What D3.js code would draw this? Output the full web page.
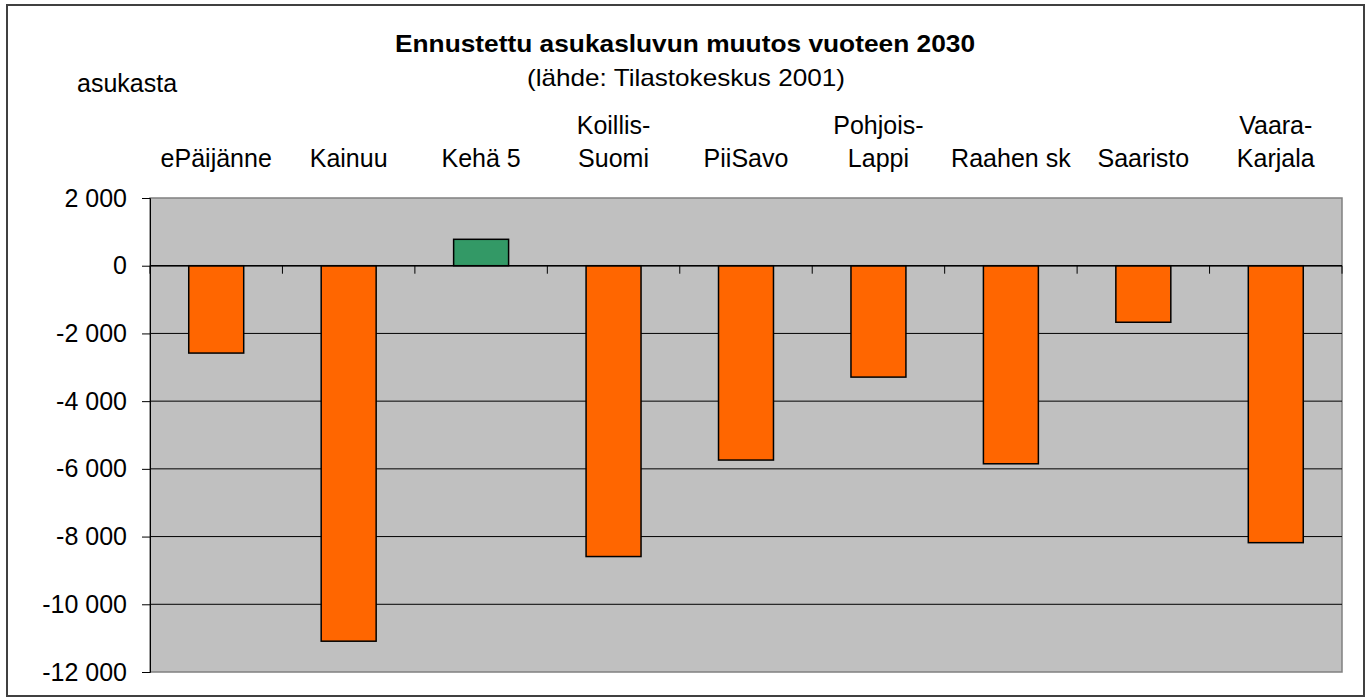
<!DOCTYPE html>
<html>
<head>
<meta charset="utf-8">
<script src="https://cdn.jsdelivr.net/npm/d3@7"></script>
<style>
body { margin: 0; background: #fff; }
text { font-family: "Liberation Sans", Arial, sans-serif; fill: #000; }
</style>
</head>
<body>
<div id="canvas"></div>
<script>
// ----------------------------------------------------------
// DATA -----------------------------------------------------
// ----------------------------------------------------------
var categories = ["ePäijänne", "Kainuu", "Kehä 5", "Koillis-Suomi", "PiiSavo",
  "Pohjois-Lappi", "Raahen sk", "Saaristo", "Vaara-Karjala"];
var values = [-2580, -11090, 780, -8590, -5740, -3290, -5850, -1670, -8180];
var y_ticks = [2000, 0, -2000, -4000, -6000, -8000, -10000, -12000];

var title_text = "Ennustettu asukasluvun muutos vuoteen 2030";
var subtitle_text = "(lähde: Tilastokeskus 2001)";
var unit_text = "asukasta";

// ----------------------------------------------------------
// STRUCTURE ------------------------------------------------
// ----------------------------------------------------------
var W = 1370, H = 700;
var plot = { left: 150, right: 1342, top: 198, bottom: 672 };

var svg = d3.select("#canvas").append("svg")
  .attr("width", W)
  .attr("height", H);

// outer frame
svg.append("rect")
  .attr("x", 7).attr("y", 5)
  .attr("width", 1357).attr("height", 691)
  .attr("fill", "#fff")
  .attr("stroke", "#404040")
  .attr("stroke-width", 2);

var x = d3.scaleBand()
  .domain(categories)
  .range([plot.left, plot.right])
  .paddingInner(0.585)
  .paddingOuter(0.2925);

var xCat = d3.scaleBand()
  .domain(categories)
  .range([plot.left, plot.right]);

var y = d3.scaleLinear()
  .domain([-12000, 2000])
  .range([plot.bottom, plot.top]);

var fi = d3.formatLocale({ decimal: ",", thousands: " ", grouping: [3], currency: ["", "€"], minus: "-" });
var fmt = fi.format(",d");

// plot background
svg.append("rect")
  .attr("x", plot.left).attr("y", plot.top)
  .attr("width", plot.right - plot.left)
  .attr("height", plot.bottom - plot.top)
  .attr("fill", "#c0c0c0")
  .attr("stroke", "#808080")
  .attr("stroke-width", 1.5);

// gridlines
svg.append("g").selectAll("line")
  .data(y_ticks.filter(function (d) { return d > -12000 && d < 2000; }))
  .enter().append("line")
  .attr("x1", plot.left).attr("x2", plot.right)
  .attr("y1", function (d) { return y(d); })
  .attr("y2", function (d) { return y(d); })
  .attr("stroke", "#000")
  .attr("stroke-width", 1);

// y axis
var yAxis = svg.append("g")
  .attr("transform", "translate(" + plot.left + ",0)")
  .call(d3.axisLeft(y).tickValues(y_ticks).tickFormat(fmt).tickSize(8).tickPadding(15));
yAxis.select(".domain").attr("stroke", "#000");
yAxis.selectAll(".tick line").attr("stroke", "#000");
yAxis.selectAll("text")
  .attr("font-size", 25)
  .attr("font-family", "Liberation Sans, Arial, sans-serif")
  .attr("fill", "#000");

// bars
svg.append("g").selectAll("rect")
  .data(values)
  .enter().append("rect")
  .attr("x", function (d, i) { return x(categories[i]); })
  .attr("width", x.bandwidth())
  .attr("y", function (d) { return y(Math.max(0, d)); })
  .attr("height", function (d) { return Math.abs(y(d) - y(0)); })
  .attr("fill", function (d) { return d >= 0 ? "#339966" : "#ff6600"; })
  .attr("stroke", "#000")
  .attr("stroke-width", 1.5);

// zero axis with category ticks
svg.append("line")
  .attr("x1", plot.left).attr("x2", plot.right)
  .attr("y1", y(0)).attr("y2", y(0))
  .attr("stroke", "#000").attr("stroke-width", 1.5);

var boundaries = categories.map(function (c) { return xCat(c); }).concat([plot.right]);
svg.append("g").selectAll("line")
  .data(boundaries)
  .enter().append("line")
  .attr("x1", function (d) { return d; })
  .attr("x2", function (d) { return d; })
  .attr("y1", y(0)).attr("y2", y(0) + 8)
  .attr("stroke", "#000").attr("stroke-width", 1);

// category labels above plot
var labels = svg.append("g").selectAll("text")
  .data(categories)
  .enter().append("text")
  .attr("x", function (d) { return xCat(d) + xCat.bandwidth() / 2; })
  .attr("text-anchor", "middle")
  .attr("font-size", 25);

labels.each(function (d) {
  var parts = d.indexOf("-") > 0 ? [d.slice(0, d.indexOf("-") + 1), d.slice(d.indexOf("-") + 1)] : [d];
  var t = d3.select(this);
  var cx = xCat(d) + xCat.bandwidth() / 2;
  parts.forEach(function (p, k) {
    t.append("tspan")
      .attr("x", cx)
      .attr("y", 167 - (parts.length - 1 - k) * 33)
      .text(p);
  });
});

// title, subtitle, unit
svg.append("text")
  .attr("x", 395).attr("y", 52)
  .attr("font-size", 24)
  .attr("font-weight", "bold")
  .attr("textLength", 580)
  .attr("lengthAdjust", "spacingAndGlyphs")
  .text(title_text);

svg.append("text")
  .attr("x", 527).attr("y", 86)
  .attr("font-size", 24)
  .attr("textLength", 318)
  .attr("lengthAdjust", "spacingAndGlyphs")
  .text(subtitle_text);

svg.append("text")
  .attr("x", 77).attr("y", 92)
  .attr("font-size", 25)
  .text(unit_text);
</script>
</body>
</html>
